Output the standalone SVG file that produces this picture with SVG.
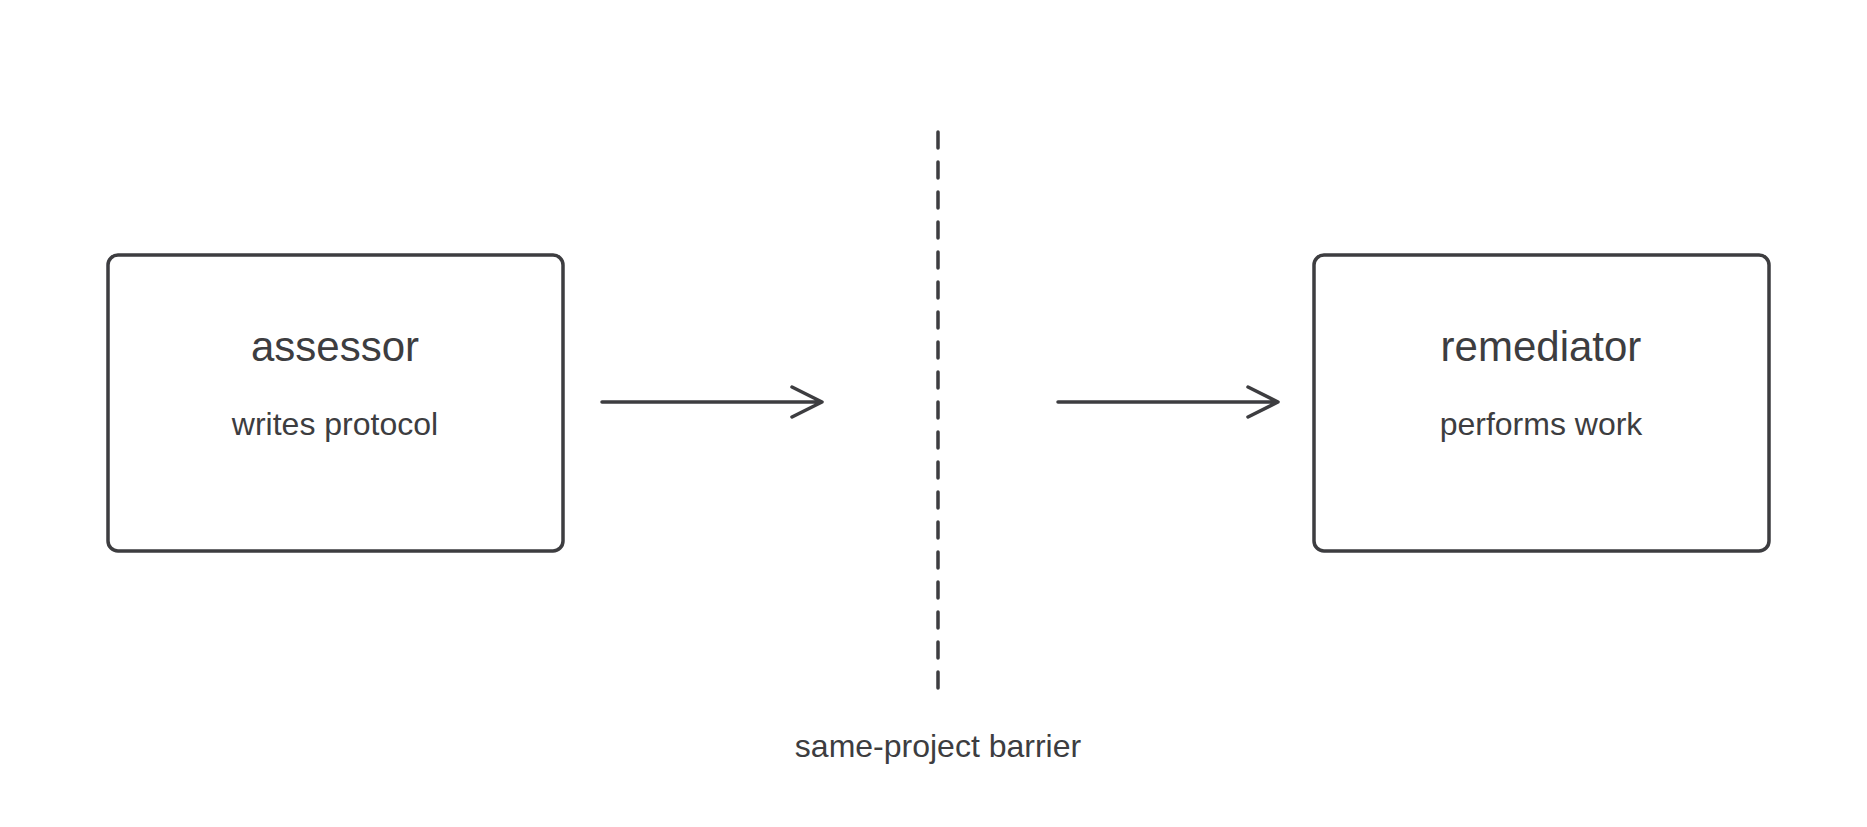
<svg xmlns="http://www.w3.org/2000/svg" width="1867" height="827" viewBox="0 0 1867 827">
<style>
.box{fill:#fff;stroke:#3d3d40;stroke-width:3.5}
.t{font-family:"Liberation Sans",sans-serif;fill:#3d3d40;text-anchor:middle}
.title{font-size:42px}
.sub{font-size:32px}
.ln{stroke:#3d3d40;stroke-width:3.5;fill:none;stroke-linecap:round;stroke-linejoin:round}
</style>
<rect width="1867" height="827" fill="#fff"/>
<g id="assessor">
<rect class="box" x="108" y="255" width="455" height="296" rx="10"/>
<text class="t title" x="335" y="361">assessor</text>
<text class="t sub" x="335" y="435">writes protocol</text>
</g>
<g id="remediator">
<rect class="box" x="1314" y="255" width="455" height="296" rx="10"/>
<text class="t title" x="1541" y="361">remediator</text>
<text class="t sub" x="1541" y="435">performs work</text>
</g>
<g id="barrier">
<line class="ln" x1="938" y1="132" x2="938" y2="700" stroke-dasharray="16 14"/>
<text class="t sub" x="938" y="757">same-project barrier</text>
</g>
<g id="connectors">
<path class="ln" d="M602 402H822M792 387L822 402L792 417"/>
<path class="ln" d="M1058 402H1278M1248 387L1278 402L1248 417"/>
</g>
</svg>
